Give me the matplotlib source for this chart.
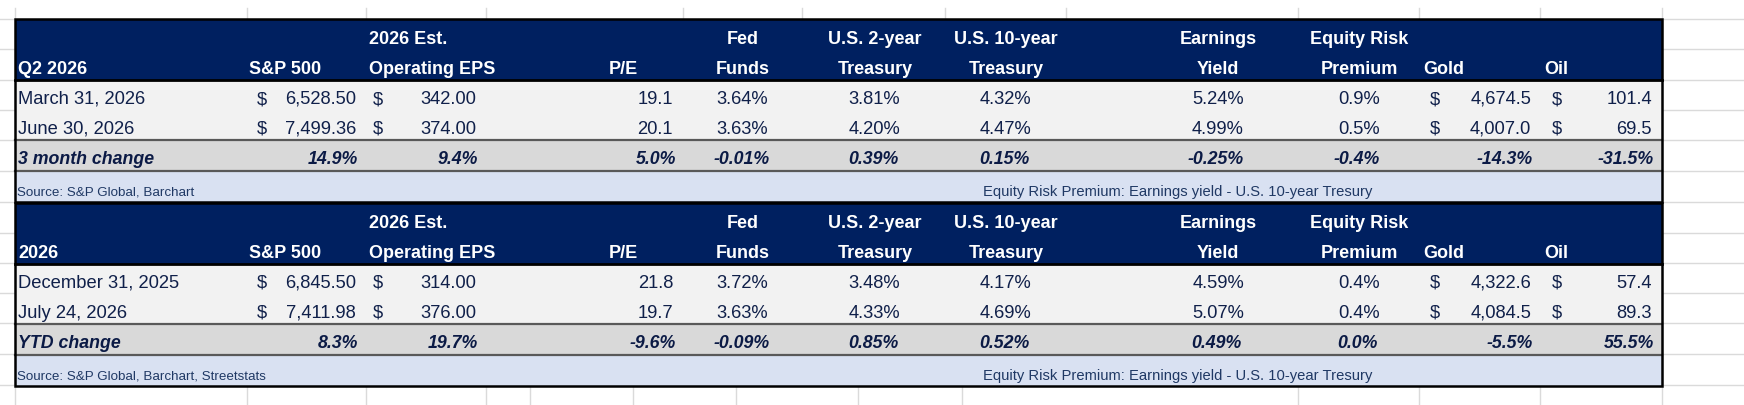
import matplotlib
matplotlib.use('Agg')
import matplotlib.pyplot as plt
from matplotlib.patches import Rectangle
from matplotlib import font_manager as fm

# ---------------- data ----------------
header_line1 = ["", "", "2026 Est.", "", "Fed", "U.S. 2-year", "U.S. 10-year", "Earnings", "Equity Risk", "", ""]
header_line2 = ["S&P 500", "Operating EPS", "P/E", "Funds", "Treasury", "Treasury", "Yield", "Premium", "Gold", "Oil"]

t1_title = "Q2 2026"
t1_dates = ["March 31, 2026", "June 30, 2026"]
t1_sp500 = [6528.50, 7499.36]
t1_eps = [342.00, 374.00]
t1_pe = [19.1, 20.1]
t1_fed = [3.64, 3.63]
t1_t2 = [3.81, 4.20]
t1_t10 = [4.32, 4.47]
t1_ey = [5.24, 4.99]
t1_erp = [0.9, 0.5]
t1_gold = [4674.5, 4007.0]
t1_oil = [101.4, 69.5]
t1_change_label = "3 month change"
t1_change = [14.9, 9.4, 5.0, -0.01, 0.39, 0.15, -0.25, -0.4, -14.3, -31.5]
t1_source = "Source: S&P Global, Barchart"

t2_title = "2026"
t2_dates = ["December 31, 2025", "July 24, 2026"]
t2_sp500 = [6845.50, 7411.98]
t2_eps = [314.00, 376.00]
t2_pe = [21.8, 19.7]
t2_fed = [3.72, 3.63]
t2_t2 = [3.48, 4.33]
t2_t10 = [4.17, 4.69]
t2_ey = [4.59, 5.07]
t2_erp = [0.4, 0.4]
t2_gold = [4322.6, 4084.5]
t2_oil = [57.4, 89.3]
t2_change_label = "YTD change"
t2_change = [8.3, 19.7, -9.6, -0.09, 0.85, 0.52, 0.49, 0.0, -5.5, 55.5]
t2_source = "Source: S&P Global, Barchart, Streetstats"

note = "Equity Risk Premium: Earnings yield - U.S. 10-year Tresury"

# formats for value columns / change row
value_fmt = ["$2", "$2", "1", "2%", "2%", "2%", "2%", "1%", "$1", "$1"]
change_dec = [1, 1, 1, 2, 2, 2, 2, 1, 1, 1]

# ---------------- style / layout ----------------
names = {f.name for f in fm.fontManager.ttflist}
if 'Liberation Sans Narrow' in names:
    FONT, SCALE = 'Liberation Sans Narrow', 1.2
elif 'Liberation Sans' in names:
    FONT, SCALE = 'Liberation Sans', 1.0
else:
    FONT, SCALE = 'DejaVu Sans', 0.88
FAM = [FONT, 'DejaVu Sans']

NAVY = '#002060'
TXT = '#10204A'
ROW_BG = '#F2F2F2'
CHG_BG = '#D9D9D9'
SRC_BG = '#D9E1F2'
GRID = '#DADADA'

W, H = 1744, 406
L, R = 15, 1662

# column specs: (header align, header x, value align, value x, dollar x, change align, change x)
cols = [
    ('left', 249, 'right', 356, 257, 'right', 358),
    ('left', 369, 'right', 476, 373, 'right', 478),
    ('left', 609, 'right', 673, None, 'right', 676),
    ('center', 743, 'right', 768, None, 'right', 770),
    ('center', 875, 'center', 874, None, 'center', 873),
    ('center', 1006, 'center', 1005, None, 'center', 1004),
    ('center', 1218, 'center', 1218, None, 'center', 1216),
    ('center', 1359, 'center', 1359, None, 'center', 1357),
    ('left', 1423, 'right', 1531, 1430, 'right', 1533),
    ('left', 1544, 'right', 1652, 1552, 'right', 1654),
]

fig = plt.figure(figsize=(W / 100, H / 100), dpi=100)
ax = fig.add_axes([0, 0, 1, 1])
ax.set_xlim(0, W)
ax.set_ylim(H, 0)
ax.axis('off')

# faint spreadsheet gridlines
for x in [15, 247, 366, 486, 683, 802, 945, 1066, 1298, 1419, 1540, 1662]:
    ax.plot([x, x], [9, 20], color=GRID, lw=1, zorder=0)
for x in [15, 247, 366, 486, 530, 633, 736, 858, 962, 1298, 1419, 1540, 1662]:
    ax.plot([x, x], [387, H], color=GRID, lw=1, zorder=0)
for y in [20, 50, 81, 111, 141, 172, 203, 234, 264, 294, 324, 355, 386]:
    ax.plot([0, L], [y, y], color=GRID, lw=1, zorder=0)
    ax.plot([R, W], [y, y], color=GRID, lw=1, zorder=0)


def fmt_val(v, f):
    dec = int(f.strip('$%'))
    s = f"{v:,.{dec}f}"
    if f.endswith('%'):
        s += '%'
    return s


def draw_table(y0, title, dates, series, change_label, change, source):
    hdr_h, row_h, chg_h, src_h = 61, 30, 31, 31
    y_r1 = y0 + hdr_h
    y_chg = y_r1 + 2 * row_h
    y_src = y_chg + chg_h
    y_end = y_src + src_h
    ax.add_patch(Rectangle((L, y0), R - L, hdr_h, facecolor=NAVY, edgecolor='none', zorder=1))
    ax.add_patch(Rectangle((L, y_r1), R - L, 2 * row_h, facecolor=ROW_BG, edgecolor='none', zorder=1))
    ax.add_patch(Rectangle((L, y_chg), R - L, chg_h, facecolor=CHG_BG, edgecolor='none', zorder=1))
    ax.add_patch(Rectangle((L, y_src), R - L, src_h, facecolor=SRC_BG, edgecolor='none', zorder=1))
    # borders
    ax.plot([L, R], [y_r1, y_r1], color='black', lw=2, zorder=3)
    ax.plot([L, R], [y_chg, y_chg], color='#595959', lw=1.6, zorder=3)
    ax.plot([L, R], [y_src, y_src], color='#595959', lw=1.6, zorder=3)
    ax.add_patch(Rectangle((L, y0), R - L, y_end - y0, facecolor='none', edgecolor='black', lw=1.8, zorder=4))

    # header
    b1, b2 = y0 + 24, y0 + 54
    hkw = dict(family=FAM, fontsize=13 * SCALE, fontweight='bold', color='white', va='baseline', zorder=5)
    ax.text(18, b2, title, ha='left', **hkw)
    for i, c in enumerate(cols):
        ha, hx = c[0], c[1]
        if header_line1[i + 1]:
            ax.text(hx, b1, header_line1[i + 1], ha=ha, **hkw)
        ax.text(hx, b2, header_line2[i], ha=ha, **hkw)

    # data rows
    dkw = dict(family=FAM, fontsize=13.2 * SCALE, color=TXT, va='baseline', zorder=5)
    for r in range(2):
        yb = y_r1 + r * row_h + 23
        ax.text(18, yb, dates[r], ha='left', **dkw)
        for i, c in enumerate(cols):
            v = series[i][r]
            s = fmt_val(v, value_fmt[i])
            ax.text(c[3], yb, s, ha=c[2], **dkw)
            if c[4] is not None:
                ax.text(c[4], yb, '$', ha='left', **dkw)

    # change row
    ckw = dict(family=FAM, fontsize=12.8 * SCALE, color='#0B1A45', fontweight='bold', style='italic',
               va='baseline', zorder=5)
    yb = y_chg + 23
    ax.text(18, yb, change_label, ha='left', **ckw)
    for i, c in enumerate(cols):
        ax.text(c[6], yb, f"{change[i]:.{change_dec[i]}f}%", ha=c[5], **ckw)

    # source row
    yb = y_src + 24
    ax.text(17, yb, source, ha='left', family=FAM, fontsize=9.6 * SCALE, color='#1F3864',
            va='baseline', zorder=5)
    ax.text(983, yb, note, ha='left', family=FAM, fontsize=10.6 * SCALE, color='#1F3864',
            va='baseline', zorder=5)


draw_table(20, t1_title, t1_dates,
           [t1_sp500, t1_eps, t1_pe, t1_fed, t1_t2, t1_t10, t1_ey, t1_erp, t1_gold, t1_oil],
           t1_change_label, t1_change, t1_source)
draw_table(204, t2_title, t2_dates,
           [t2_sp500, t2_eps, t2_pe, t2_fed, t2_t2, t2_t10, t2_ey, t2_erp, t2_gold, t2_oil],
           t2_change_label, t2_change, t2_source)

fig.savefig('out.png', dpi=100, facecolor='white')
